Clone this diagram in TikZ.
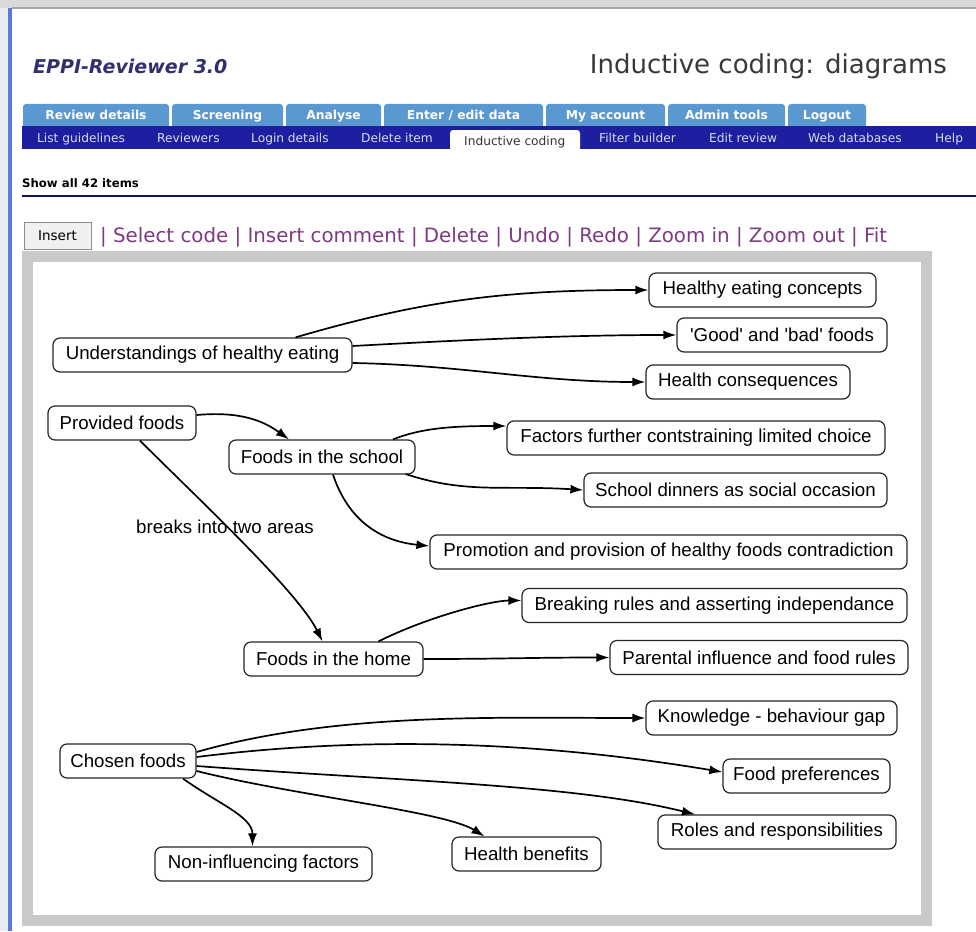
\documentclass[tikz,border=0pt]{standalone}
\usepackage{fontspec}
\setmainfont{Liberation Sans}
\newfontfamily\webfont{DejaVu Sans}
\usetikzlibrary{calc,arrows.meta}

\definecolor{barnavy}{HTML}{1E1EA0}
\definecolor{tabblue}{HTML}{5A98D2}
\definecolor{titleblue}{HTML}{30306E}
\definecolor{linkpurple}{HTML}{7E3A82}
\definecolor{canvasframe}{HTML}{C9C9C9}
\definecolor{sidebar}{HTML}{5A78E0}
\definecolor{navtext}{HTML}{D6DCF2}

\tikzset{
  codebox/.style={draw=black!85, line width=1.2pt, rounded corners=7pt,
    minimum height=34pt, inner xsep=3pt, inner ysep=2pt,
    font=\fontsize{18.7}{21}\selectfont},
  link/.style={-{Latex[length=13pt,width=9pt]}, line width=1.7pt, black},
  tabtext/.style={text=white, text height=9pt, text depth=2.5pt, inner sep=0pt,
    font=\webfont\bfseries\fontsize{12.3}{14}\selectfont},
  navlabel/.style={anchor=west, text=navtext, text height=9pt, text depth=2.5pt, inner sep=0pt,
    font=\webfont\fontsize{12.2}{14}\selectfont},
}

\begin{document}
\begin{tikzpicture}[x=1pt,y=-1pt]
\useasboundingbox (0,0) rectangle (976,931);
\fill[white] (0,0) rectangle (976,931);

% browser chrome: top strip and left rule
\fill[black!15] (0,0) rectangle (976,8);
\fill[black!35] (12,7) rectangle (976,9);
\fill[black!8] (0,8) rectangle (8,931);
\fill[sidebar] (8,8) rectangle (12,931);

% page heading
\node[anchor=west, text=titleblue, inner sep=0pt, font=\webfont\bfseries\itshape\fontsize{19}{22}\selectfont]
  (title) at (33,66) {EPPI-Reviewer 3.0};
\node[anchor=east, text=black!78, inner sep=0pt, font=\webfont\fontsize{26}{30}\selectfont]
  (heading) at (947,66) {Inductive coding: diagrams};

% main tabs
\foreach \a/\b/\t [count=\i] in {23/169/{Review details}, 172/283/{Screening}, 286/381/{Analyse},
    384/543/{Enter / edit data}, 546/665/{My account}, 668/785/{Admin tools}, 788/866/{Logout}} {
  \fill[tabblue, rounded corners=3pt] (\a,104) rectangle (\b,136);
  \node[tabtext] (tab\i) at ({(\a+\b)/2},116) {\t};
}

% sub navigation bar
\fill[barnavy] (22,126) rectangle (976,149);
\fill[white, rounded corners=3pt] (450,130) rectangle (580,156);
\fill[white] (450,149) rectangle (580,156);
\node[navlabel] (nav1) at (37,139) {List guidelines};
\node[navlabel] (nav2) at (157,139) {Reviewers};
\node[navlabel] (nav3) at (251,139) {Login details};
\node[navlabel] (nav4) at (361,139) {Delete item};
\node[navlabel, text=black!80] (nav5) at (464,142) {Inductive coding};
\node[navlabel] (nav6) at (599,139) {Filter builder};
\node[navlabel] (nav7) at (709,139) {Edit review};
\node[navlabel] (nav8) at (808,139) {Web databases};
\node[navlabel] (nav9) at (935,139) {Help};

% item count and rule
\node[anchor=west, font=\webfont\bfseries\fontsize{11.7}{13}\selectfont, inner sep=0pt]
  (count) at (22,183) {Show all 42 items};
\draw[barnavy!60!black, line width=1.5pt] (22,196) -- (976,196);

% toolbar
\node[draw=black!45, fill=black!6, minimum width=67pt, minimum height=27pt, inner sep=0pt,
  font=\webfont\fontsize{13.5}{15}\selectfont] (insert) at (57.5,235.5) {Insert};
\node[anchor=west, text=linkpurple, inner sep=0pt, font=\webfont\fontsize{19.8}{23}\selectfont]
  (tools) at (100,237) {| Select code | Insert comment | Delete | Undo | Redo | Zoom in | Zoom out | Fit};

% drawing canvas
\fill[canvasframe] (22,251) rectangle (932,926);
\fill[white] (33,262) rectangle (921,915);

% code boxes
\node[codebox, minimum width=299pt] (u)   at (202.5,355)   {Understandings of healthy eating};
\node[codebox, minimum width=227pt] (hec) at (762.5,290)   {Healthy eating concepts};
\node[codebox, minimum width=210pt] (gb)  at (782,335)     {\textquotesingle Good\textquotesingle\ and \textquotesingle bad\textquotesingle\ foods};
\node[codebox, minimum width=204pt] (hc)  at (748,382)     {Health consequences};
\node[codebox, minimum width=148pt] (pf)  at (122,423)     {Provided foods};
\node[codebox, minimum width=186pt] (fs)  at (322,457)     {Foods in the school};
\node[codebox, minimum width=378pt] (fc)  at (696,438)     {Factors further contstraining limited choice};
\node[codebox, minimum width=303pt] (sd)  at (735.5,490)   {School dinners as social occasion};
\node[codebox, minimum width=477pt] (pr)  at (668.5,552)   {Promotion and provision of healthy foods contradiction};
\node[codebox, minimum width=385pt] (br)  at (714.5,605.5) {Breaking rules and asserting independance};
\node[codebox, minimum width=179pt] (fh)  at (333.5,659)   {Foods in the home};
\node[codebox, minimum width=298pt] (pi)  at (759,657.5)   {Parental influence and food rules};
\node[codebox, minimum width=251pt] (kb)  at (771.5,718)   {Knowledge - behaviour gap};
\node[codebox, minimum width=136pt] (cf)  at (128,761)     {Chosen foods};
\node[codebox, minimum width=167pt] (fp)  at (806.5,776)   {Food preferences};
\node[codebox, minimum width=238pt] (rr)  at (777,832)     {Roles and responsibilities};
\node[codebox, minimum width=149pt] (hb)  at (526.5,854)   {Health benefits};
\node[codebox, minimum width=217pt] (ni)  at (263.5,864)   {Non-influencing factors};

\node[font=\fontsize{18.7}{21}\selectfont] (brk) at (225,527) {breaks into two areas};

% links
\draw[link] ($(u.north)+(93,0)$) .. controls +(130,-38) and +(-140,0) .. (hec.west);
\draw[link] ($(u.east)+(0,-9)$) .. controls +(110,-6) and +(-110,0) .. (gb.west);
\draw[link] ($(u.east)+(0,8)$) .. controls +(110,2) and +(-110,0) .. (hc.west);

\draw[link] ($(pf.east)+(0,-8)$) .. controls +(45,-4) and +(-25,-18) .. ($(fs.north)+(-33,0)$);
\draw[link] ($(pf.south)+(18,0)$) .. controls +(60,60) and +(-25,-50) .. ($(fh.north)+(-11,0)$);
\draw[link] ($(fs.north)+(71,0)$) .. controls +(30,-12) and +(-50,0) .. ($(fc.west)+(0,-12)$);
\draw[link] ($(fs.east)+(-10,17)$) .. controls +(60,20) and +(-80,-5) .. (sd.west);
\draw[link] ($(fs.south)+(11,0)$) .. controls +(15,45) and +(-50,-5) .. ($(pr.west)+(0,-6)$);

\draw[link] ($(fh.north)+(45,0)$) .. controls +(50,-25) and +(-30,0) .. ($(br.west)+(0,-5)$);
\draw[link] (fh.east) .. controls +(80,0) and +(-80,0) .. (pi.west);

\draw[link] ($(cf.east)+(0,-9)$) .. controls +(140,-40) and +(-150,0) .. (kb.west);
\draw[link] ($(cf.east)+(0,-4)$) .. controls +(200,-25) and +(-150,-25) .. ($(fp.west)+(0,-4)$);
\draw[link] ($(cf.east)+(0,5)$) .. controls +(200,15) and +(-120,-30) .. ($(rr.north)+(-82,0)$);
\draw[link] ($(cf.east)+(0,10)$) .. controls +(100,25) and +(-40,-25) .. ($(hb.north)+(-42,0)$);
\draw[link] ($(cf.south)+(55,0)$) .. controls +(35,25) and +(0,-30) .. ($(ni.north)+(-11,0)$);
\end{tikzpicture}
\end{document}
